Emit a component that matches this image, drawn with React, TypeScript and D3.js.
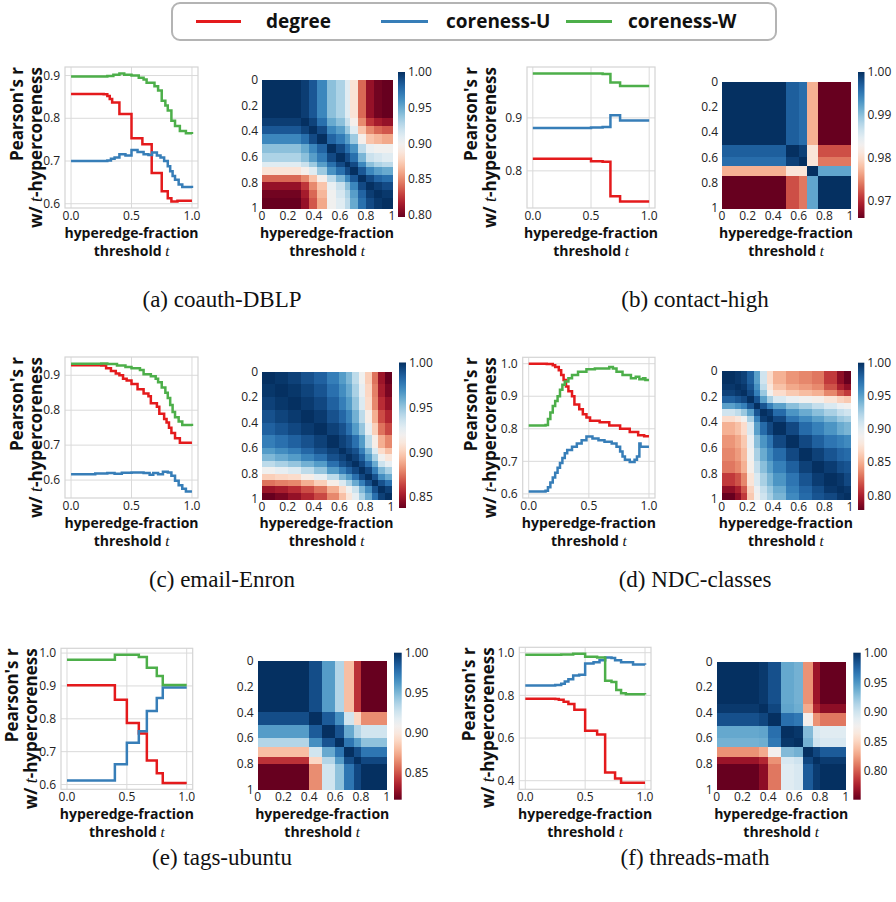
import React from "react";
import * as d3 from "d3";

type Pt = [number, number];

// ---------- line series: [threshold t, Pearson's r] ----------
const dblpDegree: Pt[] = [[0,0.857],[0.27,0.856],[0.3,0.852],[0.32,0.845],[0.34,0.837],[0.4,0.81],[0.5,0.753],[0.59,0.739],[0.667,0.672],[0.75,0.629],[0.8,0.613],[0.83,0.605],[0.88,0.607],[1,0.607]];
const dblpCoreU: Pt[] = [[0,0.7],[0.3,0.701],[0.33,0.705],[0.36,0.708],[0.4,0.716],[0.45,0.713],[0.5,0.726],[0.55,0.721],[0.6,0.716],[0.64,0.714],[0.67,0.72],[0.71,0.713],[0.74,0.708],[0.77,0.7],[0.8,0.688],[0.82,0.676],[0.84,0.665],[0.86,0.656],[0.89,0.645],[0.92,0.639],[1,0.637]];
const dblpCoreW: Pt[] = [[0,0.898],[0.3,0.899],[0.35,0.902],[0.4,0.905],[0.44,0.902],[0.5,0.9],[0.56,0.895],[0.6,0.891],[0.625,0.883],[0.69,0.875],[0.72,0.865],[0.75,0.841],[0.78,0.83],[0.8,0.818],[0.83,0.794],[0.86,0.782],[0.9,0.77],[0.95,0.765],[1,0.763]];

const contactDegree: Pt[] = [[0,0.823],[0.5,0.818],[0.6,0.817],[0.667,0.752],[0.75,0.742],[1,0.742]];
const contactCoreU: Pt[] = [[0,0.881],[0.5,0.882],[0.6,0.883],[0.667,0.905],[0.75,0.895],[1,0.895]];
const contactCoreW: Pt[] = [[0,0.984],[0.5,0.984],[0.6,0.983],[0.667,0.967],[0.75,0.96],[1,0.96]];

const enronDegree: Pt[] = [[0,0.929],[0.25,0.928],[0.29,0.92],[0.33,0.912],[0.37,0.905],[0.4,0.9],[0.43,0.89],[0.46,0.885],[0.5,0.875],[0.55,0.86],[0.6,0.848],[0.64,0.84],[0.66,0.82],[0.71,0.81],[0.73,0.79],[0.77,0.775],[0.79,0.765],[0.81,0.75],[0.83,0.735],[0.86,0.72],[0.9,0.707],[1,0.707]];
const enronCoreU: Pt[] = [[0,0.617],[0.2,0.619],[0.3,0.62],[0.36,0.618],[0.42,0.621],[0.5,0.622],[0.6,0.62],[0.65,0.615],[0.68,0.62],[0.72,0.617],[0.76,0.624],[0.8,0.622],[0.83,0.612],[0.86,0.598],[0.89,0.585],[0.92,0.575],[0.95,0.567],[1,0.567]];
const enronCoreW: Pt[] = [[0,0.933],[0.25,0.934],[0.3,0.932],[0.38,0.928],[0.45,0.924],[0.5,0.92],[0.57,0.915],[0.6,0.903],[0.66,0.897],[0.7,0.89],[0.72,0.88],[0.75,0.865],[0.78,0.85],[0.8,0.835],[0.82,0.815],[0.84,0.795],[0.86,0.78],[0.89,0.768],[0.92,0.758],[1,0.755]];

const ndcDegree: Pt[] = [[0,1.0],[0.15,0.999],[0.2,0.995],[0.22,0.99],[0.25,0.98],[0.27,0.965],[0.29,0.95],[0.31,0.93],[0.33,0.915],[0.36,0.9],[0.38,0.875],[0.42,0.86],[0.45,0.845],[0.48,0.835],[0.51,0.825],[0.59,0.82],[0.67,0.81],[0.76,0.8],[0.84,0.79],[0.91,0.78],[0.96,0.777],[1,0.777]];
const ndcCoreU: Pt[] = [[0,0.607],[0.14,0.61],[0.16,0.62],[0.18,0.635],[0.2,0.65],[0.22,0.665],[0.24,0.68],[0.26,0.695],[0.28,0.71],[0.3,0.725],[0.32,0.735],[0.36,0.745],[0.4,0.755],[0.44,0.765],[0.48,0.776],[0.53,0.77],[0.58,0.765],[0.63,0.76],[0.69,0.755],[0.73,0.745],[0.76,0.73],[0.78,0.715],[0.8,0.705],[0.84,0.698],[0.88,0.705],[0.9,0.715],[0.92,0.755],[0.93,0.745],[1,0.745]];
const ndcCoreW: Pt[] = [[0,0.81],[0.14,0.812],[0.16,0.83],[0.18,0.85],[0.2,0.87],[0.22,0.885],[0.24,0.9],[0.26,0.92],[0.28,0.935],[0.3,0.945],[0.33,0.955],[0.36,0.965],[0.41,0.975],[0.48,0.983],[0.55,0.985],[0.67,0.99],[0.7,0.985],[0.73,0.975],[0.78,0.965],[0.85,0.955],[0.89,0.96],[0.92,0.952],[0.95,0.955],[0.97,0.95],[1,0.95]];

const ubuntuDegree: Pt[] = [[0,0.902],[0.4,0.858],[0.5,0.787],[0.6,0.755],[0.667,0.673],[0.75,0.634],[0.8,0.605],[1,0.605]];
const ubuntuCoreU: Pt[] = [[0,0.612],[0.4,0.662],[0.5,0.727],[0.6,0.762],[0.667,0.824],[0.75,0.863],[0.8,0.895],[1,0.895]];
const ubuntuCoreW: Pt[] = [[0,0.98],[0.4,0.995],[0.6,0.988],[0.667,0.955],[0.75,0.93],[0.8,0.903],[1,0.903]];

const mathDegree: Pt[] = [[0,0.784],[0.25,0.783],[0.28,0.78],[0.32,0.77],[0.36,0.76],[0.41,0.733],[0.5,0.634],[0.6,0.617],[0.667,0.438],[0.75,0.41],[0.8,0.39],[1,0.39]];
const mathCoreU: Pt[] = [[0,0.846],[0.25,0.848],[0.3,0.855],[0.33,0.865],[0.36,0.875],[0.4,0.893],[0.45,0.897],[0.5,0.949],[0.57,0.955],[0.62,0.965],[0.667,0.978],[0.72,0.975],[0.75,0.965],[0.8,0.955],[0.9,0.945],[1,0.943]];
const mathCoreW: Pt[] = [[0,0.99],[0.3,0.992],[0.4,0.995],[0.5,0.981],[0.6,0.977],[0.667,0.868],[0.72,0.863],[0.76,0.825],[0.8,0.81],[0.84,0.805],[1,0.804]];

// ---------- axis ticks ----------
const lineXTicks = [0, 0.5, 1.0];
const dblpYTicks = [0.6, 0.7, 0.8, 0.9];
const contactYTicks = [0.8, 0.9];
const enronYTicks = [0.6, 0.7, 0.8, 0.9];
const ndcYTicks = [0.6, 0.7, 0.8, 0.9, 1.0];
const ubuntuYTicks = [0.6, 0.7, 0.8, 0.9, 1.0];
const mathYTicks = [0.4, 0.6, 0.8, 1.0];
const heatTicks = [0, 0.2, 0.4, 0.6, 0.8, 1];
const heatTickLabels = ["0", "0.2", "0.4", "0.6", "0.8", "1"];

// ---------- pairwise correlation between thresholds (lower triangle, by block) ----------
const dblpCuts = [0, 0.3, 0.36, 0.42, 0.5, 0.57, 0.64, 0.68, 0.74, 0.8, 0.86, 0.92, 1];
const dblpCorr = [
  [1],
  [0.995, 1],
  [0.985, 0.993, 1],
  [0.965, 0.975, 0.99, 1],
  [0.94, 0.95, 0.965, 0.98, 1],
  [0.93, 0.94, 0.955, 0.97, 0.99, 1],
  [0.91, 0.92, 0.935, 0.955, 0.975, 0.99, 1],
  [0.885, 0.895, 0.91, 0.935, 0.96, 0.975, 0.99, 1],
  [0.84, 0.85, 0.87, 0.895, 0.925, 0.945, 0.965, 0.985, 1],
  [0.81, 0.825, 0.85, 0.87, 0.905, 0.92, 0.94, 0.965, 0.99, 1],
  [0.8, 0.815, 0.84, 0.865, 0.9, 0.915, 0.93, 0.955, 0.98, 0.995, 1],
  [0.797, 0.81, 0.835, 0.86, 0.9, 0.91, 0.925, 0.95, 0.975, 0.99, 0.997, 1],
];
const contactCuts = [0, 0.5, 0.6, 0.667, 0.75, 1];
const contactCorr = [
  [1],
  [0.997, 1],
  [0.996, 0.999, 1],
  [0.977, 0.981, 0.981, 1],
  [0.966, 0.972, 0.974, 0.992, 1],
];
const enronCuts = [0, 0.1, 0.2, 0.3, 0.4, 0.5, 0.6, 0.65, 0.7, 0.75, 0.8, 0.85, 0.9, 0.95, 1];
const enronCorr = [
  [1],
  [0.998, 1],
  [0.995, 0.998, 1],
  [0.99, 0.994, 0.997, 1],
  [0.985, 0.989, 0.993, 0.997, 1],
  [0.975, 0.98, 0.985, 0.99, 0.995, 1],
  [0.965, 0.97, 0.975, 0.983, 0.99, 0.995, 1],
  [0.955, 0.96, 0.965, 0.973, 0.98, 0.99, 0.995, 1],
  [0.94, 0.945, 0.95, 0.958, 0.965, 0.98, 0.99, 0.995, 1],
  [0.92, 0.925, 0.93, 0.94, 0.95, 0.965, 0.975, 0.985, 0.993, 1],
  [0.9, 0.903, 0.905, 0.915, 0.925, 0.94, 0.955, 0.965, 0.98, 0.993, 1],
  [0.875, 0.878, 0.88, 0.89, 0.9, 0.915, 0.93, 0.945, 0.96, 0.975, 0.99, 1],
  [0.85, 0.853, 0.858, 0.866, 0.875, 0.89, 0.905, 0.92, 0.935, 0.955, 0.97, 0.99, 1],
  [0.838, 0.842, 0.848, 0.856, 0.865, 0.88, 0.895, 0.91, 0.925, 0.945, 0.96, 0.98, 0.995, 1],
];
const ndcCuts = [0, 0.1, 0.15, 0.2, 0.25, 0.3, 0.35, 0.4, 0.5, 0.6, 0.7, 0.8, 0.9, 0.95, 1];
const ndcCorr = [
  [1],
  [0.997, 1],
  [0.993, 0.997, 1],
  [0.98, 0.985, 0.99, 1],
  [0.95, 0.957, 0.965, 0.985, 1],
  [0.91, 0.917, 0.93, 0.95, 0.985, 1],
  [0.87, 0.877, 0.89, 0.925, 0.965, 0.995, 1],
  [0.85, 0.857, 0.87, 0.905, 0.95, 0.975, 0.99, 1],
  [0.84, 0.847, 0.86, 0.895, 0.935, 0.955, 0.97, 0.99, 1],
  [0.835, 0.842, 0.855, 0.89, 0.925, 0.945, 0.96, 0.975, 0.99, 1],
  [0.83, 0.836, 0.85, 0.885, 0.915, 0.935, 0.95, 0.965, 0.98, 0.993, 1],
  [0.81, 0.818, 0.835, 0.875, 0.905, 0.925, 0.94, 0.955, 0.97, 0.985, 0.995, 1],
  [0.79, 0.8, 0.82, 0.865, 0.895, 0.915, 0.93, 0.945, 0.965, 0.978, 0.988, 0.997, 1],
  [0.778, 0.79, 0.81, 0.86, 0.89, 0.91, 0.925, 0.94, 0.96, 0.975, 0.985, 0.99, 0.997, 1],
];
const ubuntuCuts = [0, 0.4, 0.5, 0.6, 0.667, 0.75, 0.8, 1];
const ubuntuCorr = [
  [1],
  [0.99, 1],
  [0.96, 0.985, 1],
  [0.935, 0.965, 0.988, 1],
  [0.88, 0.925, 0.955, 0.975, 1],
  [0.84, 0.89, 0.935, 0.96, 0.99, 1],
  [0.816, 0.865, 0.925, 0.945, 0.975, 0.992, 1],
];
const mathCuts = [0, 0.33, 0.4, 0.5, 0.6, 0.667, 0.75, 0.8, 1];
const mathCorr = [
  [1],
  [0.996, 1],
  [0.985, 0.99, 1],
  [0.94, 0.942, 0.97, 1],
  [0.935, 0.937, 0.965, 0.997, 1],
  [0.82, 0.83, 0.875, 0.93, 0.935, 1],
  [0.77, 0.78, 0.82, 0.895, 0.9, 0.99, 1],
  [0.752, 0.765, 0.81, 0.89, 0.895, 0.98, 0.995, 1],
];

const dblpCbTicks = [0.8, 0.85, 0.9, 0.95, 1.0];
const contactCbTicks = [0.97, 0.98, 0.99, 1.0];
const enronCbTicks = [0.85, 0.9, 0.95, 1.0];
const ndcCbTicks = [0.8, 0.85, 0.9, 0.95, 1.0];
const ubuntuCbTicks = [0.85, 0.9, 0.95, 1.0];
const mathCbTicks = [0.8, 0.85, 0.9, 0.95, 1.0];

const legendLabels = ["degree", "coreness-U", "coreness-W"];
const seriesColors = ["#e41a1c", "#377eb8", "#4daf4a"];

const SANS = "'Open Sans', 'Noto Sans', sans-serif";
const SERIF = "'Liberation Serif', 'DejaVu Serif', serif";

type Box = { x: number; y: number; w: number; h: number };
type Panel = {
  id: string;
  caption: string;
  series: Pt[][];
  yTicks: number[];
  cuts: number[];
  corr: number[][];
  cbTicks: number[];
  line: Box;
  heat: Box;
  cbar: Box;
  ylabelOff: number;
  capX: number;
  capY: number;
};

const panels: Panel[] = [
  {
    id: "a", caption: "(a) coauth-DBLP", series: [dblpDegree, dblpCoreU, dblpCoreW], yTicks: dblpYTicks,
    cuts: dblpCuts, corr: dblpCorr, cbTicks: dblpCbTicks,
    line: { x: 65, y: 67, w: 133, h: 141 }, heat: { x: 262, y: 80, w: 130, h: 128 }, cbar: { x: 398, y: 72, w: 7, h: 145 },
    ylabelOff: 23, capX: 222, capY: 307,
  },
  {
    id: "b", caption: "(b) contact-high", series: [contactDegree, contactCoreU, contactCoreW], yTicks: contactYTicks,
    cuts: contactCuts, corr: contactCorr, cbTicks: contactCbTicks,
    line: { x: 527, y: 67, w: 128, h: 141 }, heat: { x: 722, y: 81.5, w: 128, h: 126.5 }, cbar: { x: 858, y: 72, w: 6.5, h: 146 },
    ylabelOff: 31, capX: 695, capY: 307,
  },
  {
    id: "c", caption: "(c) email-Enron", series: [enronDegree, enronCoreU, enronCoreW], yTicks: enronYTicks,
    cuts: enronCuts, corr: enronCorr, cbTicks: enronCbTicks,
    line: { x: 65, y: 357, w: 133, h: 141 }, heat: { x: 262, y: 371.5, w: 129, h: 127.5 }, cbar: { x: 399, y: 362.5, w: 7, h: 145.5 },
    ylabelOff: 23, capX: 222, capY: 587,
  },
  {
    id: "d", caption: "(d) NDC-classes", series: [ndcDegree, ndcCoreU, ndcCoreW], yTicks: ndcYTicks,
    cuts: ndcCuts, corr: ndcCorr, cbTicks: ndcCbTicks,
    line: { x: 522.7, y: 357.3, w: 132.3, h: 140.7 }, heat: { x: 721.7, y: 370.7, w: 128.3, h: 128.3 }, cbar: { x: 858, y: 362.7, w: 6.3, h: 147.3 },
    ylabelOff: 27, capX: 695, capY: 587,
  },
  {
    id: "e", caption: "(e) tags-ubuntu", series: [ubuntuDegree, ubuntuCoreU, ubuntuCoreW], yTicks: ubuntuYTicks,
    cuts: ubuntuCuts, corr: ubuntuCorr, cbTicks: ubuntuCbTicks,
    line: { x: 61, y: 648.3, w: 131.7, h: 141 }, heat: { x: 257.7, y: 661, w: 129, h: 128.3 }, cbar: { x: 394, y: 652.7, w: 7.7, h: 147 },
    ylabelOff: 24, capX: 222, capY: 865,
  },
  {
    id: "f", caption: "(f) threads-math", series: [mathDegree, mathCoreU, mathCoreW], yTicks: mathYTicks,
    cuts: mathCuts, corr: mathCorr, cbTicks: mathCbTicks,
    line: { x: 519.3, y: 647.3, w: 131.7, h: 142 }, heat: { x: 716.7, y: 661.7, w: 129, h: 127.6 }, cbar: { x: 853.3, y: 652.7, w: 7.4, h: 147 },
    ylabelOff: 25, capX: 695, capY: 865,
  },
];

const GRID = "#dadada";

function XLabel({ cx, base }: { cx: number; base: number }) {
  return (
    <g fontFamily={SANS} fontWeight={700} fontSize={14} fill="#111" textAnchor="middle">
      <text x={cx} y={base}>hyperedge-fraction</text>
      <text x={cx} y={base + 18}>
        threshold <tspan fontFamily={SERIF} fontStyle="italic" fontWeight={400} fontSize={15}>t</tspan>
      </text>
    </g>
  );
}

function LinePanel({ p }: { p: Panel }) {
  const { x: L, y: T, w: W, h: H } = p.line;
  const xs = d3.scaleLinear().domain([-0.05, 1.05]).range([L, L + W]);
  const vals = p.series.flatMap((s) => s.map((d) => d[1]));
  const [lo, hi] = d3.extent(vals) as [number, number];
  const pad = (hi - lo) * 0.05;
  const ys = d3.scaleLinear().domain([lo - pad, hi + pad]).range([T + H, T]);
  const gen = d3.line<Pt>().x((d) => xs(d[0])).y((d) => ys(d[1])).curve(d3.curveStepAfter);
  const yl2 = L - p.ylabelOff;
  const yl1 = yl2 - 19;
  return (
    <g>
      {lineXTicks.map((t) => (
        <line key={"gx" + t} x1={xs(t)} x2={xs(t)} y1={T} y2={T + H} stroke={GRID} strokeWidth={1} />
      ))}
      {p.yTicks.map((t) => (
        <line key={"gy" + t} x1={L} x2={L + W} y1={ys(t)} y2={ys(t)} stroke={GRID} strokeWidth={1} />
      ))}
      <rect x={L} y={T} width={W} height={H} fill="none" stroke="#d4d4d4" strokeWidth={1.2} />
      {p.series.map((s, i) => (
        <path key={i} d={gen(s) || ""} fill="none" stroke={seriesColors[i]} strokeWidth={2.5} strokeLinejoin="miter" />
      ))}
      <g fontFamily={SANS} fontSize={12} fill="#222">
        {lineXTicks.map((t) => (
          <text key={"tx" + t} x={xs(t)} y={T + H + 12} textAnchor="middle">{d3.format(".1f")(t)}</text>
        ))}
        {p.yTicks.map((t) => (
          <text key={"ty" + t} x={L - 5} y={ys(t)} dy="0.35em" textAnchor="end">{d3.format(".1f")(t)}</text>
        ))}
      </g>
      <g fontFamily={SANS} fontWeight={700} fontSize={17} fill="#111" textAnchor="end">
        <text transform={`translate(${yl1},${T}) rotate(-90)`}>Pearson's r</text>
        <text transform={`translate(${yl2},${T}) rotate(-90)`}>
          w/ <tspan fontFamily={SERIF} fontStyle="italic" fontWeight={400} fontSize={18}>t</tspan>-hypercoreness
        </text>
      </g>
      <XLabel cx={L + W / 2} base={T + H + 30} />
    </g>
  );
}

function HeatPanel({ p }: { p: Panel }) {
  const { x: L, y: T, w: W, h: H } = p.heat;
  const n = p.cuts.length - 1;
  const flat = p.corr.flat();
  const vmin = d3.min(flat) as number;
  const vmax = d3.max(flat) as number;
  const color = d3.scaleSequential(d3.interpolateRdBu).domain([vmin, vmax]);
  const xs = d3.scaleLinear().domain([0, 1]).range([L, L + W]);
  const ys = d3.scaleLinear().domain([0, 1]).range([T, T + H]);
  const val = (i: number, j: number) => (i >= j ? p.corr[i][j] : p.corr[j][i]);
  const cells: { i: number; j: number }[] = [];
  for (let i = 0; i < n; i++) for (let j = 0; j < n; j++) cells.push({ i, j });
  const cb = p.cbar;
  const cbScale = d3.scaleLinear().domain([vmin, vmax]).range([cb.y + cb.h, cb.y]);
  const gid = "cbgrad-" + p.id;
  const stops = d3.range(0, 1.0001, 0.05);
  const baseRow = p.line.y + p.line.h;
  return (
    <g>
      <defs>
        <linearGradient id={gid} x1="0" y1="1" x2="0" y2="0">
          {stops.map((s) => (
            <stop key={s} offset={s} stopColor={color(vmin + s * (vmax - vmin))} />
          ))}
        </linearGradient>
      </defs>
      <g shapeRendering="crispEdges">
        {cells.map(({ i, j }) => (
          <rect
            key={i + "-" + j}
            x={xs(p.cuts[j])}
            y={ys(p.cuts[i])}
            width={xs(p.cuts[j + 1]) - xs(p.cuts[j]) + 0.5}
            height={ys(p.cuts[i + 1]) - ys(p.cuts[i]) + 0.5}
            fill={color(val(i, j))}
          />
        ))}
      </g>
      <rect x={cb.x} y={cb.y} width={cb.w} height={cb.h} fill={`url(#${gid})`} />
      <g fontFamily={SANS} fontSize={12} fill="#222">
        {heatTicks.map((t, k) => (
          <text key={"hy" + t} x={L - 4} y={ys(t)} dy="0.35em" textAnchor="end">{heatTickLabels[k]}</text>
        ))}
        {heatTicks.map((t, k) => (
          <text key={"hx" + t} x={xs(t)} y={T + H + 11.5} textAnchor="middle">{heatTickLabels[k]}</text>
        ))}
        {p.cbTicks.map((t) => (
          <text key={"cb" + t} x={cb.x + cb.w + 3} y={cbScale(t)} dy="0.35em">{d3.format(".2f")(t)}</text>
        ))}
      </g>
      <XLabel cx={L + W / 2} base={baseRow + 30} />
    </g>
  );
}

function Legend() {
  const items = [
    { x1: 196, x2: 241, tx: 266 },
    { x1: 381, x2: 428, tx: 446 },
    { x1: 566, x2: 612, tx: 628 },
  ];
  return (
    <g>
      <rect x={172} y={3} width={604} height={37} rx={8} fill="#fff" stroke="#b4b4b4" strokeWidth={2} />
      {items.map((it, i) => (
        <g key={i}>
          <line x1={it.x1} x2={it.x2} y1={21.5} y2={21.5} stroke={seriesColors[i]} strokeWidth={3} />
          <text x={it.tx} y={28} fontFamily={SANS} fontWeight={700} fontSize={19} fill="#111">{legendLabels[i]}</text>
        </g>
      ))}
    </g>
  );
}

export default function App() {
  return (
    <svg
      width={896}
      height={902}
      viewBox="0 0 896 902"
      style={{ position: "absolute", left: 0, top: 0, background: "#fff" }}
    >
      <rect width={896} height={902} fill="#fff" />
      <Legend />
      {panels.map((p) => (
        <g key={p.id}>
          <LinePanel p={p} />
          <HeatPanel p={p} />
          <text x={p.capX} y={p.capY} textAnchor="middle" fontFamily={SERIF} fontSize={23} fill="#111">
            {p.caption}
          </text>
        </g>
      ))}
    </svg>
  );
}
